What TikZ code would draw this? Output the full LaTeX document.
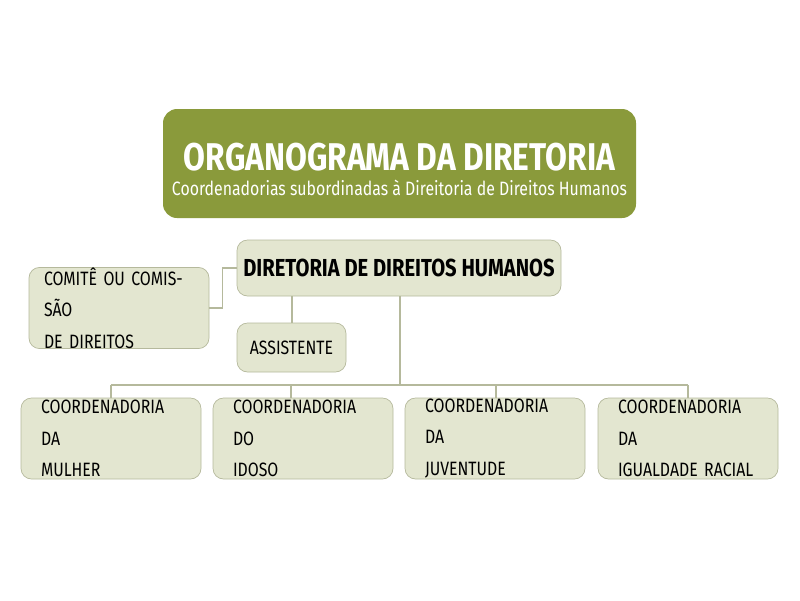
\documentclass[tikz,border=0pt]{standalone}
\usepackage{fontspec}
\setmainfont[FakeStretch=0.82]{Fira Sans}
\definecolor{olive}{HTML}{8A9A3B}
\definecolor{boxfill}{HTML}{E3E6D0}
\definecolor{boxline}{HTML}{B5B99C}
\tikzset{
  unit/.style={draw=boxline,fill=boxfill,rounded corners=6pt,inner sep=0pt},
  link/.style={draw=boxline,line width=0.6pt}
}
\begin{document}
\begin{tikzpicture}[x=0.02cm,y=-0.02cm]
      \useasboundingbox (0,0) rectangle (800,600);
      % title
      \node[fill=olive,rounded corners=8pt,minimum width=473*0.02cm,minimum height=109*0.02cm] (title) at (399.5,163.5) {};
      \node[text=white,font=\bfseries\fontsize{22}{24}\selectfont] (titletext) at (399.5,157) {ORGANOGRAMA DA DIRETORIA};
      \node[text=white,font=\fontsize{11}{13}\selectfont] (subtitle) at (399.5,188) {Coordenadorias subordinadas à Direitoria de Direitos Humanos};
      % boxes
      \node[unit,minimum width=324*0.02cm,minimum height=56*0.02cm,font=\fontsize{14}{16}\selectfont\bfseries] (dir) at (399,268) {DIRETORIA DE DIREITOS HUMANOS};
      \node[unit,minimum width=180*0.02cm,minimum height=80*0.02cm,align=left,text width=150*0.02cm,font=\fontsize{11}{18}\selectfont] (comite) at (119,308) {COMITÊ OU COMISSÃO\\DE DIREITOS};
      \node[unit,minimum width=109*0.02cm,minimum height=49*0.02cm,font=\fontsize{11}{13}\selectfont] (assist) at (291.5,347.5) {ASSISTENTE};
      \foreach \n/\x/\t in {mulher/111/{COORDENADORIA DA\\MULHER},idoso/303/{COORDENADORIA DO\\IDOSO},juventude/495/{COORDENADORIA DA\\JUVENTUDE},racial/688/{COORDENADORIA DA\\IGUALDADE RACIAL}}
        \node[unit,minimum width=180*0.02cm,minimum height=81*0.02cm,align=left,text width=140*0.02cm,font=\fontsize{11}{18}\selectfont] (\n) at (\x,438.5) {\t};
      % connectors
      \coordinate (bus) at (400,385);
      \draw[link] (dir.south -| 292,0) -- (assist.north -| 292,0);
      \draw[link] (comite.east) -- ++(13,0) |- (dir.west |- 0,268);
      \draw[link] (dir.south -| 400,0) -- (bus);
      \draw[link] (111,385) -- (688,385);
      \foreach \n/\x in {mulher/111,idoso/291,juventude/496,racial/688}
        \draw[link] (\x,385) -- (\n.north -| \x,0);
\end{tikzpicture}
\end{document}
